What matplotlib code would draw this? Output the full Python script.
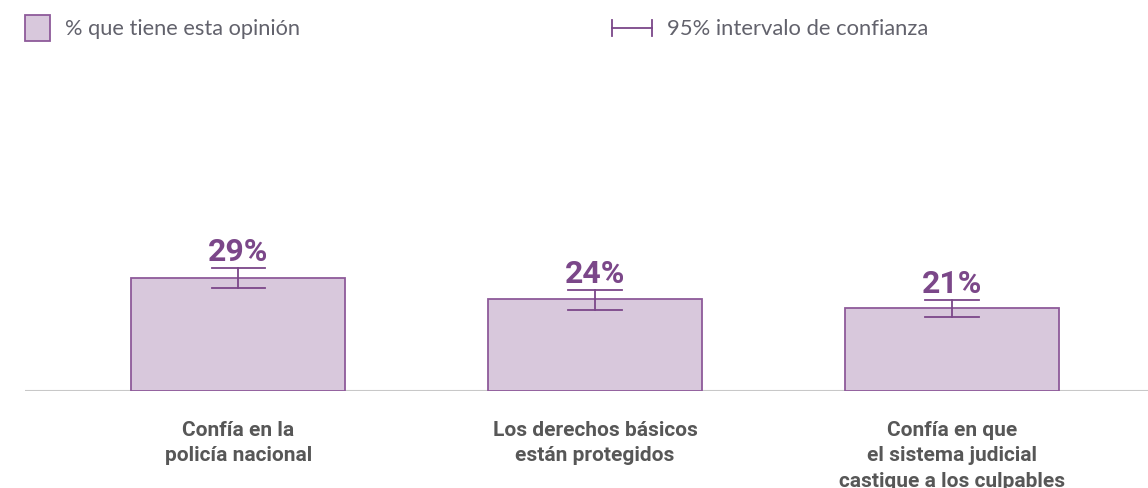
import matplotlib
matplotlib.use("Agg")
import matplotlib.pyplot as plt
from matplotlib.patches import Rectangle
from matplotlib.lines import Line2D

categories = ["Confía en la\npolicía nacional",
              "Los derechos básicos\nestán protegidos",
              "Confía en que\nel sistema judicial\ncastique a los culpables"]
values = [29.0, 23.6, 21.3]
ci_low = [26.4, 20.8, 19.1]
ci_high = [31.6, 26.0, 23.4]
legend_bar = "% que tiene esta opinión"
legend_ci = "95% intervalo de confianza"

FILL = "#d8c8dc"
EDGE = "#8e5a9a"
PURPLE = "#7b4789"
GRAY_TXT = "#575757"
LEG_TXT = "#62626c"

W, H = 1148, 489
fig = plt.figure(figsize=(W / 100, H / 100), dpi=100)
ax = fig.add_axes([25 / W, 97 / H, 1 - 25 / W, 388.6 / H])
ax.set_xlim(-0.598, 2.55)
ax.set_ylim(0, 100)
ax.axis("off")

x = list(range(len(categories)))
ax.bar(x, values, width=0.6, color=FILL, edgecolor=EDGE, linewidth=1.3, zorder=2)
ax.axhline(0, color="#c8c8c8", linewidth=1.5, zorder=1)

for xi, v, lo, hi in zip(x, values, ci_low, ci_high):
    ax.plot([xi, xi], [lo, hi], color=PURPLE, linewidth=1.3, zorder=3)
    for yy in (lo, hi):
        ax.plot([xi - 0.075, xi + 0.075], [yy, yy], color=PURPLE, linewidth=1.3, zorder=3)
    ax.annotate(f"{round(v):d}%", (xi, hi), xytext=(0, 6), textcoords="offset points",
                ha="center", va="baseline", fontsize=23, fontweight="bold",
                color=PURPLE, family="Roboto")

for xi, lab in zip(x, categories):
    ax.annotate(lab, (xi, 0), xytext=(0, -21), textcoords="offset points",
                ha="center", va="top", fontsize=15, fontweight="bold",
                color=GRAY_TXT, family="Roboto", linespacing=1.42)

# Legend
fig.patches.append(Rectangle((25 / W, 1 - 42 / H), 25 / W, 26 / H,
                             transform=fig.transFigure, facecolor=FILL,
                             edgecolor=EDGE, linewidth=1.3))
fig.text(65 / W, 1 - 29 / H, legend_bar, ha="left", va="center",
         fontsize=15.7, color=LEG_TXT, family="Lato")
yc = 1 - 29 / H
fig.lines.append(Line2D([612 / W, 652 / W], [yc, yc], transform=fig.transFigure,
                        color=PURPLE, linewidth=1.3))
for xx in (612, 652):
    fig.lines.append(Line2D([xx / W, xx / W], [yc - 8 / H, yc + 8 / H],
                            transform=fig.transFigure, color=PURPLE, linewidth=1.3))
fig.text(667 / W, yc, legend_ci, ha="left", va="center",
         fontsize=15.8, color=LEG_TXT, family="Lato")

fig.savefig("out.png", dpi=100)
